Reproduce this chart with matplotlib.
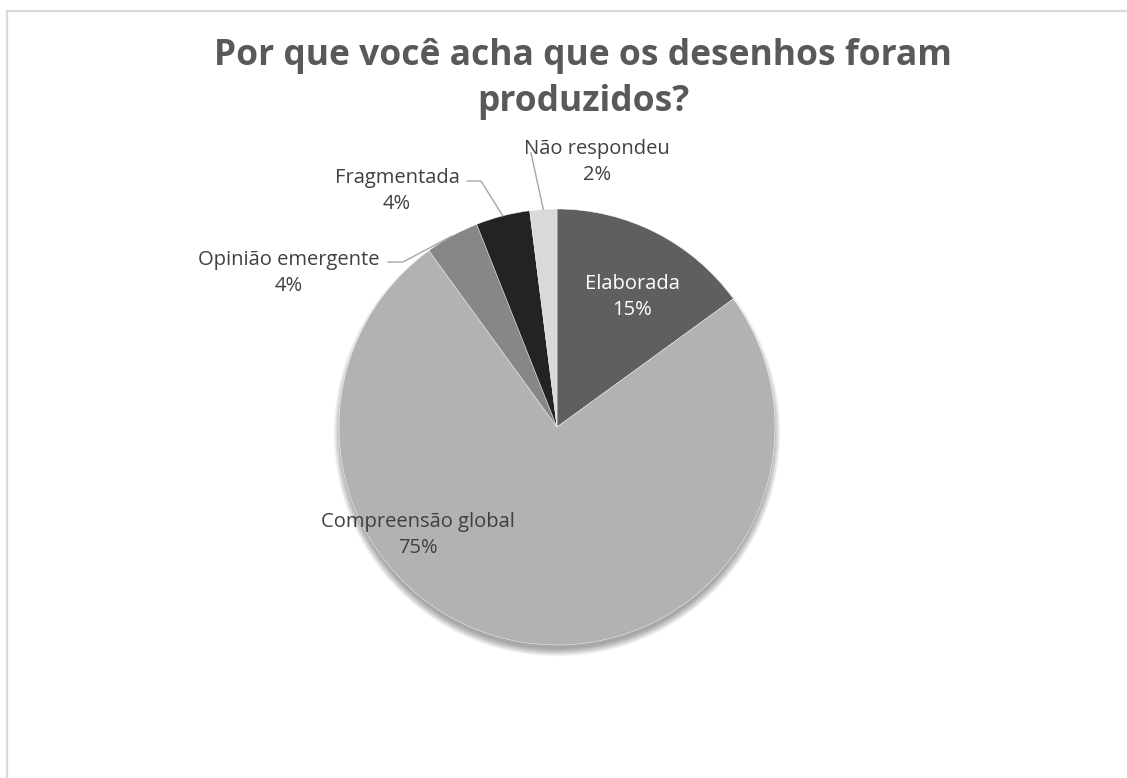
import numpy as np
import matplotlib.pyplot as plt
from matplotlib.patches import Circle

plt.rcParams['font.family'] = ['Open Sans', 'DejaVu Sans']

title = "Por que você acha que os desenhos foram\nproduzidos?"
categories = ["Elaborada", "Compreensão global", "Opinião emergente",
              "Fragmentada", "Não respondeu"]
percentages = [15, 75, 4, 4, 2]
colors = ["#5f5f5f", "#b2b2b2", "#878787", "#232323", "#d9d9d9"]

W, H = 1127, 778
cx, cy, r = 557, H - 427, 218

fig = plt.figure(figsize=(W / 100, H / 100), dpi=100)
ax = fig.add_axes([0, 0, 1, 1])

# soft drop shadow under the pie
for k in range(9):
    ax.add_patch(Circle((cx, cy - 6), r - 2 + k * 0.9, color="black",
                        alpha=0.045, lw=0, zorder=0))

wedges, _ = ax.pie(percentages, colors=colors, startangle=90, counterclock=False,
                   center=(cx, cy), radius=r,
                   wedgeprops=dict(edgecolor="white", linewidth=0.3))
for w in wedges:
    w.set_zorder(2)

ax.set_xlim(0, W)
ax.set_ylim(0, H)
ax.set_aspect("equal")
ax.axis("off")

# chart frame
ax.plot([7, 7, W], [0, H - 11, H - 11], color="#d9d9d9", lw=1.6,
        solid_joinstyle="miter", zorder=1)

label_color = "#404040"
fs = 14.5

def mid_point(i):
    start = 90 - 360 * sum(percentages[:i]) / 100
    ang = np.deg2rad(start - 180 * percentages[i] / 100)
    return cx + r * np.cos(ang), cy + r * np.sin(ang)

def txt(i, x, y, color=label_color):
    ax.text(x, H - y, f"{categories[i]}\n{percentages[i]}%", ha="center",
            va="center", fontsize=fs, color=color, linespacing=1.4, zorder=5)

# inside labels
txt(0, 632, 297, color="white")
txt(1, 418, 535)

# outside labels with leader lines
line_kw = dict(color="#a6a6a6", lw=1.0, zorder=4)

txt(2, 289, 273)
px, py = mid_point(2)
ax.plot([388, 403, px], [H - 262, H - 262, py], **line_kw)

txt(3, 397, 191)
px, py = mid_point(3)
ax.plot([467, 481, px], [H - 181, H - 181, py], **line_kw)

txt(4, 597, 162)
px, py = mid_point(4)
ax.plot([531, px], [H - 153, py], **line_kw)

fig.text(583 / W, 1 - 79 / H, title, ha="center", va="center", fontsize=25.5,
         fontweight="bold", color="#595959", linespacing=1.4)

fig.savefig("out.png", dpi=100)
